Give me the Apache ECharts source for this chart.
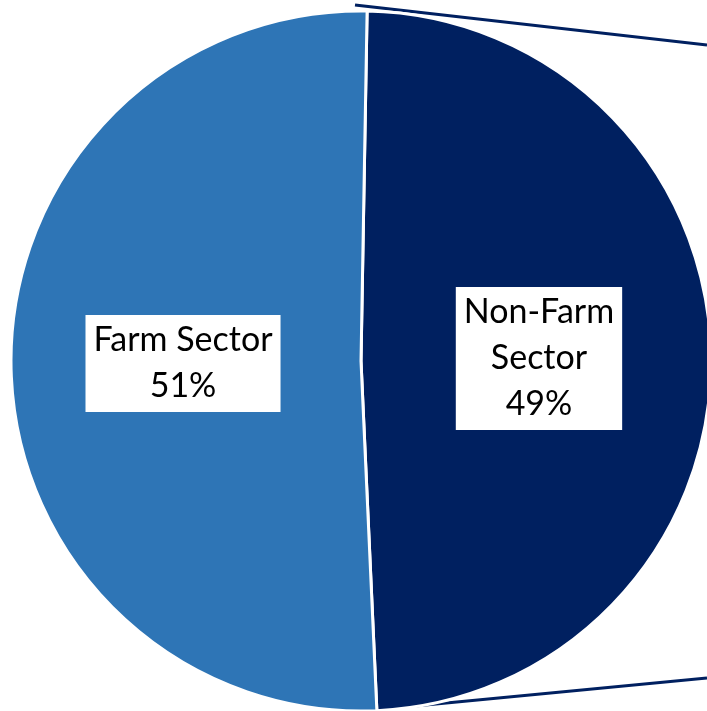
<!DOCTYPE html>
<html>
<head>
<meta charset="utf-8">
<script src="https://cdn.jsdelivr.net/npm/echarts@6/dist/echarts.min.js"></script>
<style>
html, body { margin: 0; padding: 0; background: #fff; }
#main { width: 707px; height: 711px; }
</style>
</head>
<body>
<div id="main"></div>
<script>
// 扇区数据
var sectors = ['Non-Farm Sector', 'Farm Sector'];
var labelText = ['Non-Farm\nSector', 'Farm Sector'];
var shares = [49, 51];
var colors = ['#002060', '#2E75B6'];

var myChart = echarts.init(document.getElementById('main'));

var pieData = [];
for (var i = 0; i < sectors.length; i++) {
	pieData.push({
		name: sectors[i],
		value: shares[i],
		itemStyle: { color: colors[i] },
		label: { formatter: labelText[i] + '\n{d}%' }
	});
}

var option = {
	backgroundColor: '#fff',
	animation: false,
	// 连接线 (pie of pie)
	graphic: [{
		type: 'line',
		shape: { x1: 355, y1: 5, x2: 707, y2: 45 },
		style: { stroke: '#002060', lineWidth: 3 }
	}, {
		type: 'line',
		shape: { x1: 363, y1: 711, x2: 707, y2: 678 },
		style: { stroke: '#002060', lineWidth: 3 }
	}],
	series: [{
		type: 'pie',
		center: [361, 361],
		radius: 350,
		startAngle: 89,
		clockwise: true,
		silent: true,
		itemStyle: {
			borderColor: '#fff',
			borderWidth: 3
		},
		label: {
			show: true,
			position: 'inside',
			color: '#000',
			backgroundColor: '#fff',
			fontFamily: 'Lato',
			fontSize: 34,
			lineHeight: 46,
			padding: [3, 8, 2, 8],
			align: 'center'
		},
		labelLine: { show: false },
		data: pieData
	}]
};
myChart.setOption(option);
</script>
</body>
</html>
